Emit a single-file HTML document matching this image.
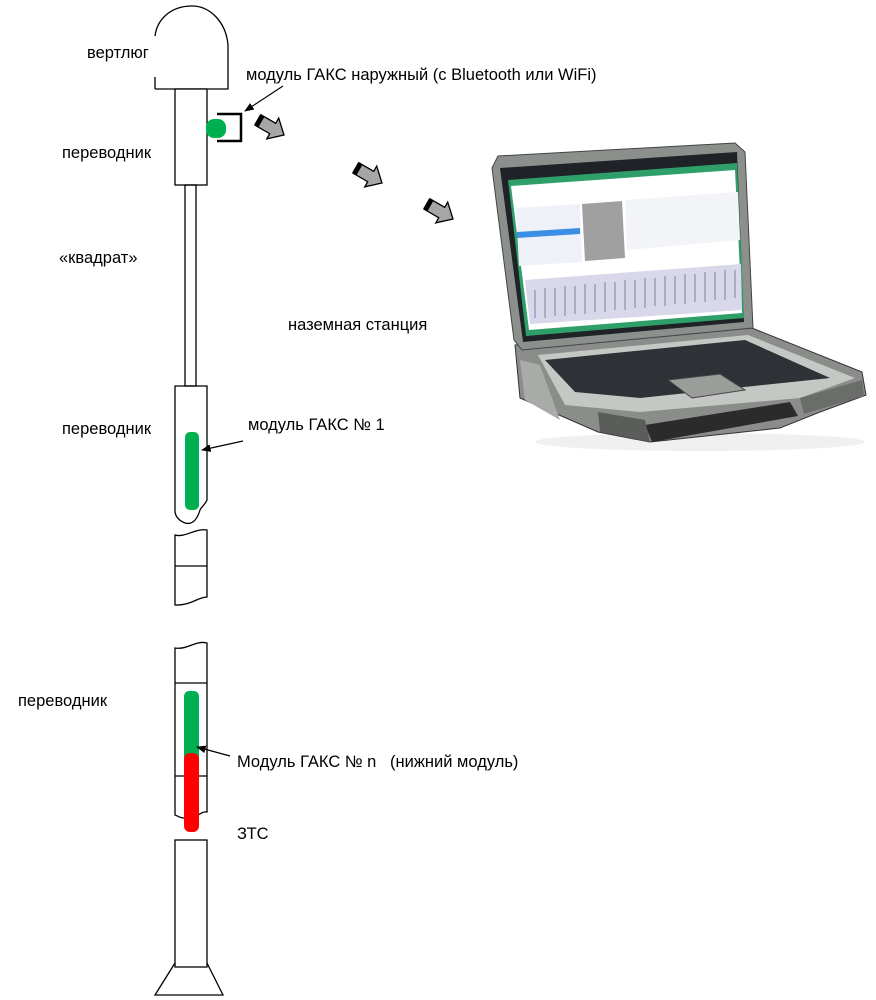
<!DOCTYPE html>
<html><head><meta charset="utf-8"><style>
html,body{margin:0;padding:0;background:#fff;}
svg{display:block}
text{font-family:"Liberation Sans",Arial,sans-serif;font-size:16.5px;fill:#000}
</style></head><body>
<svg width="876" height="1000" viewBox="0 0 876 1000" xmlns="http://www.w3.org/2000/svg">
<defs>
<marker id="ah" viewBox="0 0 10 10" refX="9" refY="5" markerWidth="8" markerHeight="8" orient="auto"><path d="M0,1 L10,5 L0,9 z" fill="#000"/></marker>
<g id="barrow">
<path d="M0,-6 L17,-6 L17,-12 L30,0 L17,12 L17,6 L0,6 Z" fill="#a6a6a6" stroke="#000" stroke-width="1.3"/>
<rect x="-1" y="-6" width="5" height="12" fill="#000"/>
</g>
</defs>
<g fill="none" stroke="#000" stroke-width="1.3">
<path d="M155,89 L228,89 L228,45 C226,22 210,6 192,6 C170,6 157,20 155,36"/>
<path d="M155,77 L155,89"/>
<rect x="175" y="89" width="32" height="96" fill="#fff"/>
<rect x="185" y="185" width="11" height="201"/>
<path d="M175,386 L207,386 L207,500 C205,505 202,506 200,510 C197,520 192,525 185,523 C180,521 176,518 175,512 Z"/>
<path d="M175,535 C185,538 195,528 207,530 L207,597 C198,597 190,606 175,605 Z"/>
<line x1="175" y1="566" x2="207" y2="566"/>
<path d="M175,648 C188,650 195,640 207,643 L207,812 C202,811 200,815 197,815 L184,818 C180,818 176,815 175,815 Z"/>
<line x1="175" y1="683" x2="207" y2="683"/>
<line x1="175" y1="776" x2="207" y2="776"/>
<rect x="175" y="840" width="32" height="127"/>
<path d="M175,963 L155,995 L223,995 L207,963"/>
</g>
<path d="M217,114 L241,114 L241,141 L217,141" fill="none" stroke="#000" stroke-width="2.5"/>
<rect x="206" y="119" width="20" height="19" rx="8" fill="#00b050"/>
<rect x="185" y="432" width="14" height="78" rx="5" fill="#00b050"/>
<rect x="184" y="691" width="15" height="72" rx="5" fill="#00b050"/>
<rect x="184" y="753" width="15" height="79" rx="6" fill="#ff0000"/>
<line x1="283" y1="86" x2="245" y2="111" stroke="#000" stroke-width="1.2" marker-end="url(#ah)"/>
<line x1="243" y1="441" x2="202" y2="450" stroke="#000" stroke-width="1.2" marker-end="url(#ah)"/>
<line x1="230" y1="756" x2="197" y2="747" stroke="#000" stroke-width="1.2" marker-end="url(#ah)"/>
<use href="#barrow" transform="translate(258,120) rotate(30)"/>
<use href="#barrow" transform="translate(356,168) rotate(30)"/>
<use href="#barrow" transform="translate(427,204) rotate(30)"/>
<text x="87" y="58">вертлюг</text>
<text x="246" y="80">модуль ГАКС наружный (с Bluetooth или WiFi)</text>
<text x="62" y="158">переводник</text>
<text x="59" y="263">«квадрат»</text>
<text x="288" y="330">наземная станция</text>
<text x="62" y="434">переводник</text>
<text x="248" y="430">модуль ГАКС № 1</text>
<text x="18" y="706">переводник</text>
<text x="237" y="767" xml:space="preserve">Модуль ГАКС № n   (нижний модуль)</text>
<text x="237" y="839">ЗТС</text>
<g>
<ellipse cx="700" cy="442" rx="165" ry="9" fill="#f0f0f0"/>
<!-- base -->
<path d="M515,345 L752,328 L862,372 L866,395 L820,412 L780,428 L650,442 L598,432 L520,398 Z" fill="#8a8d8a" stroke="#333" stroke-width="1"/>
<path d="M538,355 L748,335 L855,378 L800,398 L640,412 L565,405 Z" fill="#c4c7c4"/>
<path d="M545,360 L745,340 L830,378 L640,398 L575,392 Z" fill="#2e3135"/>
<path d="M668,380 L720,374 L745,390 L692,398 Z" fill="#9a9d9a" stroke="#444" stroke-width="1"/>
<path d="M645,425 L790,402 L798,416 L652,442 Z" fill="#2b2b2b"/>
<path d="M598,412 L645,420 L650,442 L600,432 Z" fill="#5a5d5a"/>
<path d="M800,398 L862,380 L864,396 L804,414 Z" fill="#6a6d6a"/>
<path d="M520,360 L540,365 L560,420 L525,400 Z" fill="#a8aba8"/>
<!-- lid -->
<path d="M492,168 L498,156 L735,143 L745,152 L753,328 L522,350 L514,340 Z" fill="#8c908c" stroke="#444" stroke-width="1"/>
<path d="M500,168 L737,152 L744,322 L523,342 Z" fill="#1f2226"/>
<path d="M508,180 L737,163 L744,318 L526,336 Z" fill="#2f9f6a"/>
<path d="M511,186 L735,170 L742,313 L529,330 Z" fill="#ffffff"/>
<path d="M516,208 L580,204 L582,262 L519,266 Z" fill="#eef2f8"/>
<path d="M582,204 L622,201 L625,258 L585,261 Z" fill="#a0a0a0"/>
<path d="M517,232 L580,228 L580,234 L517,238 Z" fill="#3a8ee6"/>
<path d="M625,200 L738,192 L740,240 L627,250 Z" fill="#f2f4f8"/>
<path d="M525,280 L741,264 L742,310 L530,324 Z" fill="#d8d8ea"/>
<g stroke="#5a5a8a" stroke-width="1" opacity="0.7">
<path d="M535,290 L535,318 M545,288 L545,318 M555,288 L555,316 M565,286 L565,316 M575,286 L575,314 M585,284 L585,314 M595,284 L595,312 M605,282 L605,312 M615,282 L615,310 M625,280 L625,310 M635,280 L635,308 M645,278 L645,308 M655,278 L655,306 M665,276 L665,306 M675,276 L675,304 M685,274 L685,304 M695,274 L695,302 M705,272 L705,302 M715,272 L715,300 M725,270 L725,300 M735,270 L735,298"/>
</g>
</g>
</svg>
</body></html>
